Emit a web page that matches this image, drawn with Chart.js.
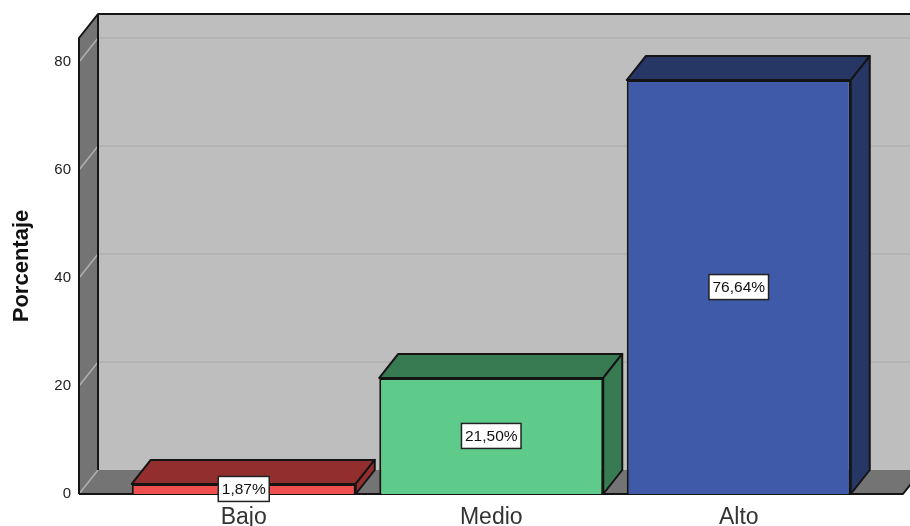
<!DOCTYPE html>
<html>
<head>
<meta charset="utf-8">
<style>
html, body { margin: 0; padding: 0; background: #fff; overflow: hidden; }
canvas { display: block; }
</style>
<script src="https://cdn.jsdelivr.net/npm/chart.js@4/dist/chart.umd.min.js"></script>
</head>
<body>
<canvas id="chart" width="910" height="526"></canvas>
<script>
// data
const categories = ['Bajo', 'Medio', 'Alto'];
const values = [1.87, 21.50, 76.64];
const valueLabels = ['1,87%', '21,50%', '76,64%'];
const yTicks = [0, 20, 40, 60, 80];

// colours
const frontColors = ['#ef4f4f', '#5ecb8a', '#3f5aa8'];
const darkColors = ['#932e2e', '#387a52', '#263766'];
const lineColor = '#141414';

// depth of the fake 3D box
const depthX = 19;
const depthY = -24;
const wallLeftX = 79;
const floorRightX = 903;

function poly(ctx, pts, fill, stroke, width) {
    ctx.beginPath();
    pts.forEach((p, i) => i ? ctx.lineTo(p[0], p[1]) : ctx.moveTo(p[0], p[1]));
    ctx.closePath();
    if (fill) { ctx.fillStyle = fill; ctx.fill(); }
    if (stroke) { ctx.strokeStyle = stroke; ctx.lineWidth = width; ctx.stroke(); }
}

// walls, floor and gridlines behind the bars
const boxPlugin = {
    id: 'box',
    beforeDatasetsDraw(chart) {
        const ctx = chart.ctx;
        const y = chart.scales.y;
        const top = y.top, bottom = y.bottom;
        const bx = wallLeftX + depthX, rx = floorRightX + depthX;
        ctx.save();
        ctx.lineJoin = 'round';
        poly(ctx, [[bx, top + depthY], [rx, top + depthY], [rx, bottom + depthY], [bx, bottom + depthY]], '#bebebe');
        poly(ctx, [[wallLeftX, top], [bx, top + depthY], [bx, bottom + depthY], [wallLeftX, bottom]], '#747474');
        poly(ctx, [[wallLeftX, bottom], [bx, bottom + depthY], [rx, bottom + depthY], [floorRightX, bottom]], '#747474');

        // gridlines
        yTicks.forEach(v => {
            const py = y.getPixelForValue(v);
            ctx.strokeStyle = '#b0b0b0';
            ctx.lineWidth = 1.5;
            ctx.beginPath();
            ctx.moveTo(wallLeftX, py);
            ctx.lineTo(bx, py + depthY);
            if (v > 0) ctx.lineTo(rx, py + depthY);
            ctx.stroke();
        });

        // box edges
        ctx.strokeStyle = lineColor;
        ctx.lineWidth = 2;
        ctx.beginPath();
        ctx.moveTo(wallLeftX, bottom);
        ctx.lineTo(wallLeftX, top);
        ctx.lineTo(bx, top + depthY);
        ctx.lineTo(rx, top + depthY);
        ctx.moveTo(bx, top + depthY);
        ctx.lineTo(bx, bottom + depthY);
        ctx.moveTo(wallLeftX, bottom);
        ctx.lineTo(floorRightX, bottom);
        ctx.lineTo(rx, bottom + depthY);
        ctx.stroke();

        // top and side of every bar
        chart.getDatasetMeta(0).data.forEach((bar, i) => {
            const hw = bar.width / 2;
            const l = bar.x - hw, r = bar.x + hw;
            poly(ctx, [[l, bar.y], [l + depthX, bar.y + depthY], [r + depthX, bar.y + depthY], [r, bar.y]], darkColors[i], lineColor, 2);
            poly(ctx, [[r, bar.y], [r + depthX, bar.y + depthY], [r + depthX, bar.base + depthY], [r, bar.base]], darkColors[i], lineColor, 2);
        });
        ctx.restore();
    },
    // value boxes in front of the bars
    afterDatasetsDraw(chart) {
        const ctx = chart.ctx;
        ctx.save();
        ctx.font = '15.5px "Liberation Sans"';
        ctx.textAlign = 'center';
        ctx.textBaseline = 'middle';
        chart.getDatasetMeta(0).data.forEach((bar, i) => {
            const midY = (bar.y + bar.base) / 2;
            const w = ctx.measureText(valueLabels[i]).width + 7;
            ctx.fillStyle = '#fff';
            ctx.fillRect(bar.x - w / 2, midY - 12.5, w, 25);
            ctx.strokeStyle = '#222';
            ctx.lineWidth = 1.5;
            ctx.strokeRect(bar.x - w / 2, midY - 12.5, w, 25);
            ctx.fillStyle = '#111';
            ctx.fillText(valueLabels[i], bar.x, midY + 1);
        });
        ctx.restore();
    }
};

new Chart(document.getElementById('chart'), {
    type: 'bar',
    data: {
        labels: categories,
        datasets: [{
            data: values,
            backgroundColor: frontColors,
            borderColor: lineColor,
            borderWidth: 2,
            barPercentage: 0.905,
            categoryPercentage: 1
        }]
    },
    options: {
        responsive: false,
        animation: false,
        layout: { padding: { top: 38, right: 47.5, bottom: 0, left: 0 } },
        plugins: { legend: { display: false }, tooltip: { enabled: false } },
        scales: {
            x: {
                grid: { display: false },
                border: { display: false },
                ticks: { color: '#333', padding: 2, maxRotation: 0, font: { family: 'Liberation Sans', size: 23 } },
                afterFit(scale) { scale.height = 32; }
            },
            y: {
                min: 0,
                max: 84.44,
                grid: { display: false },
                border: { display: false },
                title: { display: true, text: 'Porcentaje', color: '#111', padding: { top: 9, bottom: 0 }, font: { family: 'Liberation Sans', size: 22, weight: 'bold' } },
                ticks: {
                    stepSize: 20,
                    includeBounds: false,
                    color: '#222',
                    padding: 41,
                    font: { family: 'Liberation Sans', size: 15 }
                },
                afterFit(scale) {
                    scale.width = 120;
                    // tick padding would otherwise also push the plot in from top and bottom
                    scale.paddingTop = 0;
                    scale.paddingBottom = 0;
                }
            }
        }
    },
    plugins: [boxPlugin]
});
</script>
</body>
</html>
